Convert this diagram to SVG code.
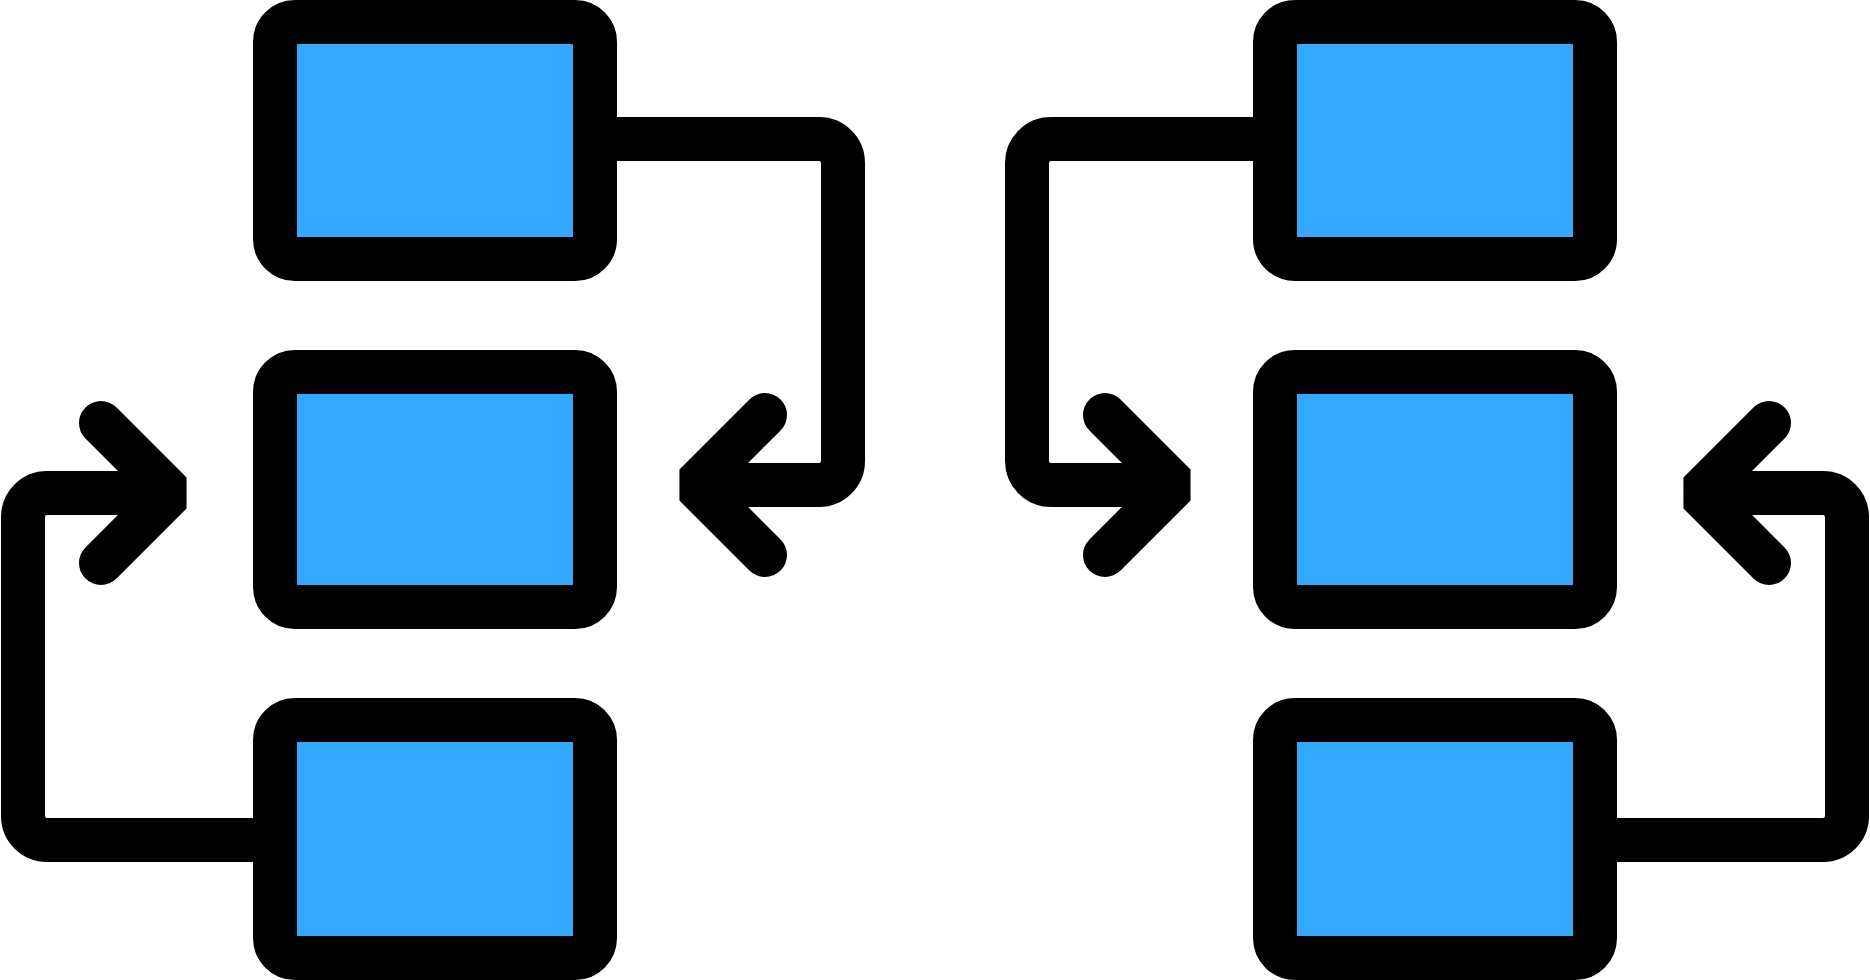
<svg xmlns="http://www.w3.org/2000/svg" width="1870" height="980" viewBox="0 0 1870 980">
<style>
.box{fill:#33A8FE;stroke:#000;stroke-width:44}
.line{fill:none;stroke:#000;stroke-width:44;stroke-linecap:butt;stroke-linejoin:round}
.head{fill:none;stroke:#000;stroke-width:44;stroke-linecap:round;stroke-linejoin:bevel}
</style>
<rect width="1870" height="980" fill="#fff"/>
<g id="connectors">
<path class="line" d="M595,139 H819 A24,24 0 0 1 843,163 V461 A24,24 0 0 1 819,485 H695"/>
<path class="head" d="M765,415 L695,485 L765,555"/>
<path class="line" d="M275,840 H47 A24,24 0 0 1 23,816 V517 A24,24 0 0 1 47,493 H171"/>
<path class="head" d="M101,423 L171,493 L101,563"/>
<path class="line" d="M1275,139 H1051 A24,24 0 0 0 1027,163 V461 A24,24 0 0 0 1051,485 H1175"/>
<path class="head" d="M1105,415 L1175,485 L1105,555"/>
<path class="line" d="M1595,840 H1823 A24,24 0 0 0 1847,816 V517 A24,24 0 0 0 1823,493 H1699"/>
<path class="head" d="M1769,423 L1699,493 L1769,563"/>
</g>
<g id="node-left-top"><rect class="box" x="275" y="22" width="320" height="237" rx="20"/></g>
<g id="node-left-middle"><rect class="box" x="275" y="372" width="320" height="235" rx="20"/></g>
<g id="node-left-bottom"><rect class="box" x="275" y="720" width="320" height="238" rx="20"/></g>
<g id="node-right-top"><rect class="box" x="1275" y="22" width="320" height="237" rx="20"/></g>
<g id="node-right-middle"><rect class="box" x="1275" y="372" width="320" height="235" rx="20"/></g>
<g id="node-right-bottom"><rect class="box" x="1275" y="720" width="320" height="238" rx="20"/></g>
</svg>
